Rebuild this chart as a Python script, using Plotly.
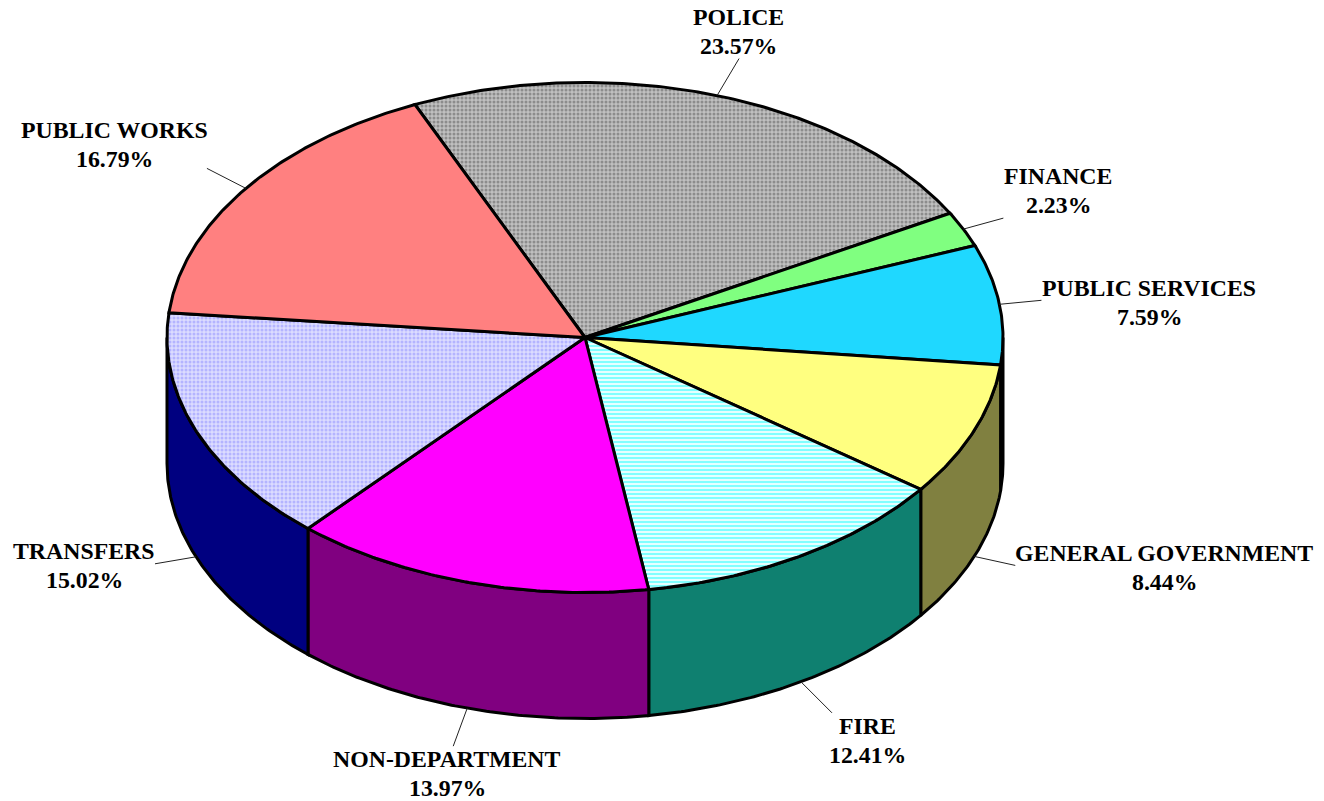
import math
import numpy as np
import plotly.graph_objects as go

categories = ["POLICE", "FINANCE", "PUBLIC SERVICES", "GENERAL GOVERNMENT",
              "FIRE", "NON-DEPARTMENT", "TRANSFERS", "PUBLIC WORKS"]
values = [23.57, 2.23, 7.59, 8.44, 12.41, 13.97, 15.02, 16.79]
top_colors = ["#b4b4b4", "#80ff80", "#1fd8ff", "#ffff80", "#c4ffff", "#ff00ff", "#ccccff", "#ff8080"]
side_colors = ["#5a5a5a", "#408040", "#0f6c80", "#808040", "#0f8070", "#800080", "#000080", "#804040"]
label_x = [738, 1058, 1149, 1164, 867, 447, 84, 114]
label_y = [31, 190, 302, 567, 740, 773, 565, 144]
leader_dx = [22, 40, 42, 41, 31, -14, -41, -39]
leader_dy = [-37, -11, -4, 9, 31, 38, 7, -20]

CX, CY, RX, RY, DEPTH = 585.0, 337.5, 418.0, 255.0, 126.0
START = -24.0
LINE = 3
FONT = "Liberation Serif, Times New Roman, serif"
FONT_SIZE = 23.8
LINE_GAP = 14.5


def arc(a0, a1, dy=0.0):
    n = max(2, int(abs(a1 - a0)) * 2 + 2)
    t = np.radians(np.linspace(a0, a1, n))
    return CX + RX * np.sin(t), CY + dy - RY * np.cos(t)


total = sum(values)
edges = [START]
for v in values:
    edges.append(edges[-1] + v / total * 360)

fig = go.Figure()

# Walls: only the part of each slice on the near half of the ellipse
for i in range(len(values)):
    a0, a1 = max(edges[i], 90), min(edges[i + 1], 270)
    if a1 <= a0:
        continue
    xt, yt = arc(a0, a1)
    xb, yb = arc(a1, a0, DEPTH)
    fig.add_trace(go.Scatter(
        x=np.r_[xt, xb, xt[0]], y=np.r_[yt, yb, yt[0]], mode="lines", fill="toself",
        fillcolor=side_colors[i], line=dict(color="black", width=LINE),
        hoverinfo="skip", showlegend=False))

# Top face
patterns = {
    0: dict(shape=".", size=4, solidity=0.45, fgcolor="#8c8c8c", bgcolor="#c0c0c0", fillmode="replace"),
    4: dict(shape="-", size=4, solidity=0.5, fgcolor="#80ffff", bgcolor="#e6ffff", fillmode="replace"),
    6: dict(shape=".", size=4, solidity=0.45, fgcolor="#b4b4ff", bgcolor="#dcdcff", fillmode="replace"),
}
for i in range(len(values)):
    xa, ya = arc(edges[i], edges[i + 1])
    kw = dict(fillcolor=top_colors[i])
    if i in patterns:
        kw["fillpattern"] = patterns[i]
    fig.add_trace(go.Scatter(
        x=np.r_[CX, xa, CX], y=np.r_[CY, ya, CY], mode="lines", fill="toself",
        line=dict(color="black", width=LINE), hoverinfo="skip", showlegend=False, **kw))

# Leader lines and labels
for i, name in enumerate(categories):
    mid = (edges[i] + edges[i + 1]) / 2
    t = math.radians(mid)
    near = 90 < mid < 270
    x0 = CX + RX * math.sin(t)
    y0 = CY + (DEPTH if near else 0) - RY * math.cos(t)
    fig.add_trace(go.Scatter(
        x=[x0, x0 + leader_dx[i]], y=[y0, y0 + leader_dy[i]], mode="lines",
        line=dict(color="#222222", width=1), hoverinfo="skip", showlegend=False))
    for text, dy in ((name, -LINE_GAP), (f"{values[i]:.2f}%", LINE_GAP)):
        fig.add_annotation(
            x=label_x[i], y=label_y[i] + dy, xref="x", yref="y", showarrow=False,
            text=f"<b>{text}</b>", align="center", xanchor="center", yanchor="middle",
            font=dict(family=FONT, size=FONT_SIZE, color="black"))

axis = dict(visible=False, fixedrange=True)
fig.update_layout(
    width=1324, height=801, margin=dict(l=0, r=0, t=0, b=0),
    paper_bgcolor="white", plot_bgcolor="white", showlegend=False,
    xaxis=dict(range=[0, 1324], **axis),
    yaxis=dict(range=[801, 0], **axis),
)
fig.write_html("out.html", config=dict(displayModeBar=False),
               post_script="document.body.style.margin='0';document.body.style.overflow='hidden';")
